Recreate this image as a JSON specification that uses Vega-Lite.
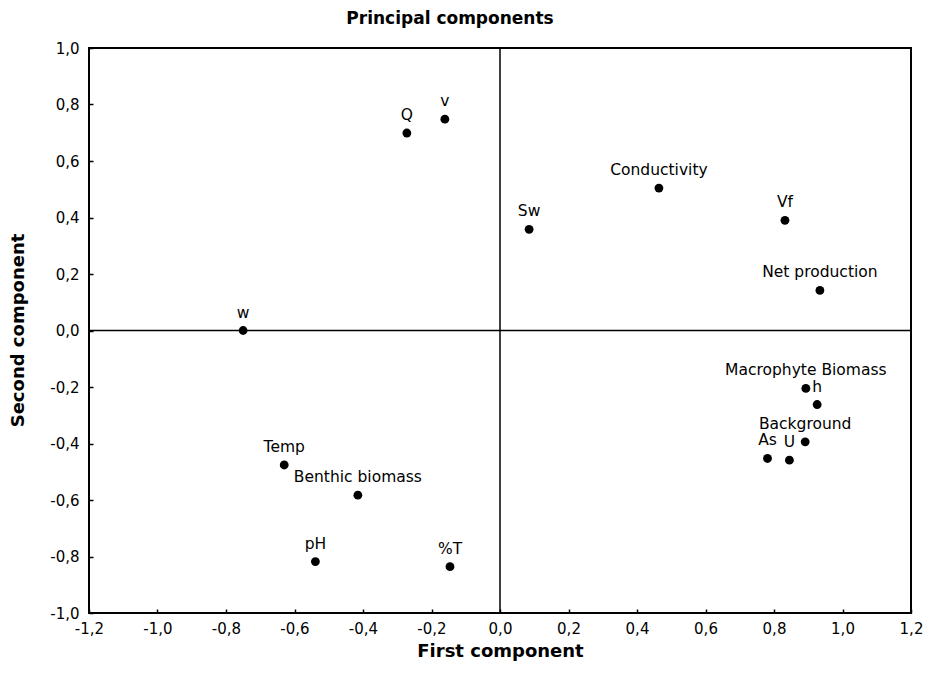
{
  "$schema": "https://vega.github.io/schema/vega-lite/v6.json",
  "autosize": "none",
  "width": 822,
  "height": 565,
  "padding": {"left": 89, "top": 48, "right": 16, "bottom": 73},
  "background": "white",
  "title": {"text": "Principal components", "font": "DejaVu Sans", "fontSize": 17, "fontWeight": "bold", "color": "black", "anchor": "middle", "dx": -50, "offset": 13},
  "config": {
    "view": {"stroke": "black", "strokeWidth": 2},
    "axis": {"grid": false, "domain": false, "labelFont": "DejaVu Sans", "labelFontSize": 15, "labelColor": "black", "tickColor": "black", "tickSize": -4, "tickWidth": 1.5, "titleFont": "DejaVu Sans", "titleFontSize": 18, "titleFontWeight": "bold", "titleColor": "black"}
  },
  "data": {"values": [
    {"name": "Q", "x": -0.272, "y": 0.699},
    {"name": "v", "x": -0.161, "y": 0.748},
    {"name": "w", "x": -0.750, "y": 0.0},
    {"name": "Sw", "x": 0.085, "y": 0.358},
    {"name": "Conductivity", "x": 0.464, "y": 0.504},
    {"name": "Vf", "x": 0.832, "y": 0.390},
    {"name": "Net production", "x": 0.934, "y": 0.142},
    {"name": "Macrophyte Biomass", "x": 0.893, "y": -0.205},
    {"name": "h", "x": 0.926, "y": -0.262},
    {"name": "Background", "x": 0.891, "y": -0.394},
    {"name": "As", "x": 0.781, "y": -0.453},
    {"name": "U", "x": 0.845, "y": -0.459},
    {"name": "Temp", "x": -0.630, "y": -0.476},
    {"name": "Benthic biomass", "x": -0.415, "y": -0.583},
    {"name": "pH", "x": -0.539, "y": -0.818},
    {"name": "%T", "x": -0.146, "y": -0.836}
  ]},
  "layer": [
    {
      "data": {"values": [{"v": 0}]},
      "mark": {"type": "rule", "color": "black", "strokeWidth": 1.5},
      "encoding": {"x": {"field": "v", "type": "quantitative", "scale": {"domain": [-1.2, 1.2]}}}
    },
    {
      "data": {"values": [{"v": 0}]},
      "mark": {"type": "rule", "color": "black", "strokeWidth": 1.5},
      "encoding": {"y": {"field": "v", "type": "quantitative", "scale": {"domain": [-1, 1]}}}
    },
    {
      "mark": {"type": "point", "filled": true, "color": "black", "size": 78, "opacity": 1},
      "encoding": {
        "x": {"field": "x", "type": "quantitative", "scale": {"domain": [-1.2, 1.2], "nice": false, "zero": false},
          "axis": {"title": "First component", "values": [-1.2, -1.0, -0.8, -0.6, -0.4, -0.2, 0, 0.2, 0.4, 0.6, 0.8, 1.0, 1.2], "labelExpr": "(datum.value < 0 ? '-' : '') + replace(format(abs(datum.value), '.1f'), '.', ',')", "labelPadding": 12, "labelFlush": false, "titleY": 38, "titleBaseline": "middle"}},
        "y": {"field": "y", "type": "quantitative", "scale": {"domain": [-1, 1], "nice": false, "zero": false},
          "axis": {"title": "Second component", "values": [-1.0, -0.8, -0.6, -0.4, -0.2, 0, 0.2, 0.4, 0.6, 0.8, 1.0], "labelExpr": "(datum.value < 0 ? '-' : '') + replace(format(abs(datum.value), '.1f'), '.', ',')", "labelPadding": 14, "labelFlush": false, "titleX": -71, "titleY": 282, "titleBaseline": "middle"}}
      }
    },
    {
      "mark": {"type": "text", "font": "DejaVu Sans", "fontSize": 15.5, "color": "black", "baseline": "alphabetic", "align": "center", "dy": -13},
      "encoding": {
        "x": {"field": "x", "type": "quantitative"},
        "y": {"field": "y", "type": "quantitative"},
        "text": {"field": "name"}
      }
    }
  ]
}
